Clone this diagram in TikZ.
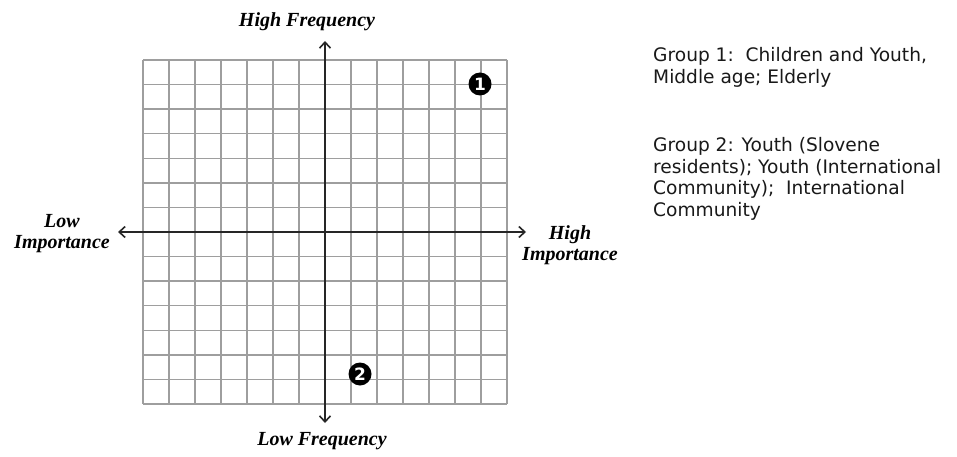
\documentclass[tikz,border=0pt]{standalone}
\usepackage{fontspec}
\usetikzlibrary{arrows.meta}
\newfontfamily\grpfont{DejaVu Sans}
\newfontfamily\handfont{Liberation Serif}
\begin{document}
\begin{tikzpicture}[x=1pt,y=-1pt,
  gridline/.style={draw=black!38, line width=1.4pt},
  axisline/.style={draw=black!85, line width=2pt, {Straight Barb[length=6pt,width=11pt,line width=1.6pt]}-{Straight Barb[length=6pt,width=11pt,line width=1.6pt]}},
  hand/.style={font=\handfont\bfseries\itshape\fontsize{20}{23}\selectfont, inner sep=0pt, align=center},
  badge/.style={circle, fill=black, text=white, inner sep=0pt, minimum size=23pt, font=\grpfont\bfseries\fontsize{17}{17}\selectfont},
  grouptext/.style={font=\grpfont\fontsize{18.6}{21.7}\selectfont, align=left, anchor=north west, inner sep=0pt, text=black!90}]
\useasboundingbox[fill=white] (0,0) rectangle (957,457);
% grid
\foreach \i in {0,...,14} \draw[gridline] (143+\i*26,60) -- (143+\i*26,404);
\foreach \j in {0,...,14} \draw[gridline] (143,60+\j*24.571) -- (507,60+\j*24.571);
% axes
\coordinate (top) at (325,41);
\coordinate (bottom) at (325,423);
\coordinate (left) at (118,232);
\coordinate (right) at (526,232);
\draw[axisline] (top) -- (bottom);
\draw[axisline] (left) -- (right);
% axis labels
\node[hand] (hf) at (307,22) {High Frequency};
\node[hand] (lf) at (322,441) {Low Frequency};
\node[hand] (li) at (62,234) {Low\\[-2pt]Importance};
\node[hand] (hi) at (570,245) {High\\[-2pt]Importance};
% badges
\node[badge] (b1) at (480,84) {1};
\node[badge] (b2) at (360,374) {2};
% group texts
\node[grouptext] (g1) at (653,47) {Group 1:\ \ Children and Youth,\\Middle age; Elderly};
\node[grouptext] (g2) at (653,137) {Group 2: Youth (Slovene\\residents); Youth (International\\Community);\ \ International\\Community};
\end{tikzpicture}
\end{document}
